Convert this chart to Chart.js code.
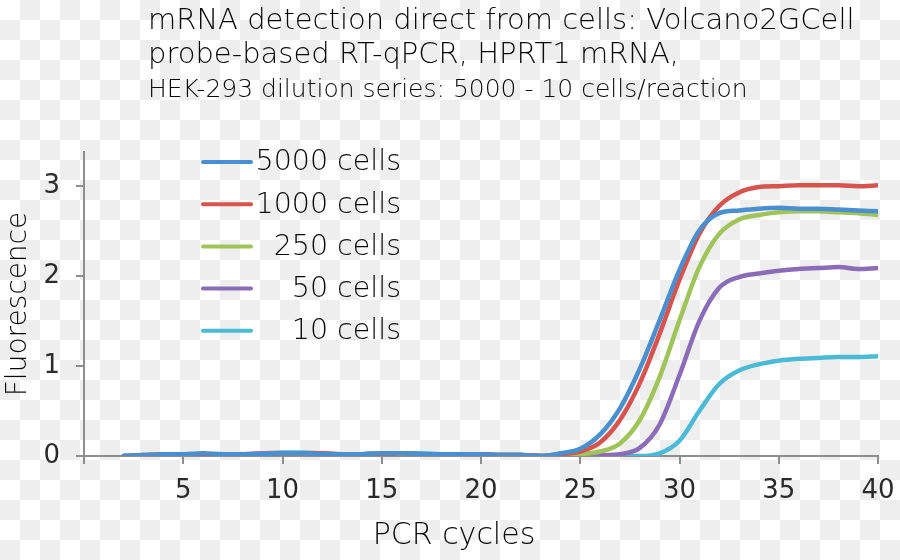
<!DOCTYPE html>
<html lang="en">
<head>
    <meta charset="UTF-8">
    <title>mRNA detection direct from cells</title>
    <script src="https://cdn.jsdelivr.net/npm/chart.js"></script>
    <style>
        html, body {
            margin: 0;
            padding: 0;
        }
        body {
            width: 900px;
            height: 560px;
            background: repeating-conic-gradient(#eeeeee 0 25%, #ffffff 0 50%) 0 0 / 40px 40px;
        }
        #chart {
            display: block;
        }
    </style>
</head>
<body>
    <canvas id="chart" width="900" height="560"></canvas>

    <script>
        // PCR cycle numbers
        const cycles = [2, 3, 4, 5, 6, 7, 8, 9, 10, 11, 12, 13, 14, 15, 16, 17, 18, 19, 20, 21,
                        22, 23, 24, 25, 26, 27, 28, 29, 30, 31, 32, 33, 34, 35, 36, 37, 38, 39, 40];

        const cells5000 = [0.00, 0.01, 0.02, 0.02, 0.03, 0.02, 0.02, 0.02, 0.03, 0.03, 0.02, 0.02, 0.02, 0.03, 0.03, 0.02, 0.02, 0.02, 0.02, 0.01,
                           0.01, 0.00, 0.03, 0.08, 0.24, 0.53, 0.97, 1.51, 2.07, 2.51, 2.70, 2.73, 2.75, 2.76, 2.75, 2.75, 2.74, 2.73, 2.72];
        const cells1000 = [0.00, 0.01, 0.02, 0.02, 0.02, 0.02, 0.02, 0.02, 0.03, 0.03, 0.03, 0.02, 0.02, 0.02, 0.03, 0.02, 0.02, 0.02, 0.02, 0.01,
                           0.01, 0.00, 0.02, 0.05, 0.15, 0.40, 0.81, 1.36, 1.96, 2.47, 2.78, 2.93, 2.99, 3.00, 3.01, 3.01, 3.01, 3.00, 3.01];
        const cells250 = [0.00, 0.00, 0.01, 0.02, 0.02, 0.02, 0.02, 0.02, 0.03, 0.03, 0.02, 0.02, 0.02, 0.03, 0.02, 0.02, 0.02, 0.02, 0.02, 0.01,
                          0.01, 0.00, 0.01, 0.02, 0.05, 0.14, 0.40, 0.88, 1.51, 2.10, 2.47, 2.63, 2.68, 2.71, 2.72, 2.72, 2.71, 2.70, 2.68];
        const cells50 = [0.00, 0.00, 0.01, 0.02, 0.02, 0.02, 0.02, 0.03, 0.03, 0.02, 0.02, 0.02, 0.02, 0.03, 0.02, 0.02, 0.02, 0.02, 0.02, 0.01,
                         0.01, 0.00, 0.00, 0.00, 0.01, 0.02, 0.09, 0.35, 0.90, 1.50, 1.87, 1.99, 2.03, 2.06, 2.08, 2.09, 2.10, 2.08, 2.09];
        const cells10 = [0.00, 0.00, 0.01, 0.01, 0.02, 0.02, 0.02, 0.03, 0.04, 0.04, 0.03, 0.02, 0.02, 0.03, 0.03, 0.03, 0.02, 0.02, 0.02, 0.01,
                         0.01, 0.00, 0.00, 0.00, 0.00, 0.00, 0.00, 0.03, 0.17, 0.50, 0.80, 0.95, 1.02, 1.06, 1.08, 1.09, 1.10, 1.10, 1.11];

        const seriesNames = ['5000 cells', '1000 cells', '250 cells', '50 cells', '10 cells'];
        const seriesValues = [cells5000, cells1000, cells250, cells50, cells10];
        const seriesColors = ['#4a8fd0', '#d6534e', '#9fc45a', '#8a6cb9', '#4bbad6'];

        const titleLines = [
            'mRNA detection direct from cells: Volcano2GCell',
            'probe-based RT-qPCR, HPRT1 mRNA,',
            'HEK-293 dilution series: 5000 - 10 cells/reaction'
        ];

        const FONT = '"DejaVu Sans", "Liberation Sans", sans-serif';
        const TEXT = '#2b2b2b';
        const LIGHT_TEXT = '#0a0a0a';
        const AXIS = '#8e8e8e';

        // titles, legend and x-axis caption, drawn on top of the chart
        const overlay = {
            id: 'overlay',
            afterDraw(chart) {
                const ctx = chart.ctx;
                ctx.save();
                ctx.fillStyle = LIGHT_TEXT;
                ctx.textBaseline = 'alphabetic';
                ctx.textAlign = 'left';
                ctx.font = '300 29px ' + FONT;
                ctx.fillText(titleLines[0], 148, 29);
                ctx.fillText(titleLines[1], 148, 63);
                ctx.font = '300 25px ' + FONT;
                ctx.fillText(titleLines[2], 148, 97);

                // legend
                ctx.font = '300 28.5px ' + FONT;
                ctx.textAlign = 'right';
                ctx.textBaseline = 'middle';
                ctx.lineCap = 'round';
                chart.data.datasets.forEach((ds, i) => {
                    const y = 162 + i * 42.2;
                    ctx.strokeStyle = ds.borderColor;
                    ctx.lineWidth = 4;
                    ctx.beginPath();
                    ctx.moveTo(203, y);
                    ctx.lineTo(251, y);
                    ctx.stroke();
                    ctx.fillText(ds.label, 401, y + 1);
                });

                // x axis caption
                ctx.textAlign = 'center';
                ctx.textBaseline = 'alphabetic';
                ctx.font = '300 30px ' + FONT;
                ctx.fillText('PCR cycles', 454, 544);
                ctx.restore();
            }
        };

        const datasets = seriesNames.map((name, i) => ({
            label: name,
            data: cycles.map((c, j) => ({ x: c, y: seriesValues[i][j] })),
            borderColor: seriesColors[i],
            backgroundColor: seriesColors[i],
            borderWidth: 4.5,
            pointRadius: 0,
            fill: false,
            cubicInterpolationMode: 'monotone',
            borderCapStyle: 'round',
            order: i + 1
        }));

        new Chart(document.getElementById('chart'), {
            type: 'line',
            data: { datasets },
            options: {
                responsive: false,
                animation: false,
                layout: {
                    padding: { top: 152, right: 22, left: 0, bottom: 0 }
                },
                plugins: {
                    legend: { display: false },
                    tooltip: { enabled: false }
                },
                scales: {
                    x: {
                        type: 'linear',
                        min: 0,
                        max: 40,
                        afterFit: s => {
                            s.height = 104;
                            s.paddingLeft = 0;
                            s.paddingRight = 0;
                        },
                        ticks: {
                            stepSize: 5,
                            maxRotation: 0,
                            padding: 12,
                            color: TEXT,
                            font: { family: FONT, size: 26 },
                            callback: v => (v === 0 ? '' : v)
                        },
                        grid: {
                            drawOnChartArea: false,
                            tickLength: 8,
                            color: AXIS,
                            lineWidth: 2
                        },
                        border: { color: AXIS, width: 2 }
                    },
                    y: {
                        min: 0,
                        max: 3.38,
                        afterFit: s => { s.width = 84; },
                        ticks: {
                            stepSize: 1,
                            includeBounds: false,
                            padding: 16,
                            color: TEXT,
                            font: { family: FONT, size: 26 }
                        },
                        grid: {
                            drawOnChartArea: false,
                            tickLength: 8,
                            color: AXIS,
                            lineWidth: 2
                        },
                        border: { color: AXIS, width: 2 },
                        title: {
                            display: true,
                            text: 'Fluorescence',
                            color: LIGHT_TEXT,
                            font: { family: FONT, size: 28, weight: 300 },
                            padding: { top: 2, bottom: 0 }
                        }
                    }
                }
            },
            plugins: [overlay]
        });
    </script>
</body>
</html>
